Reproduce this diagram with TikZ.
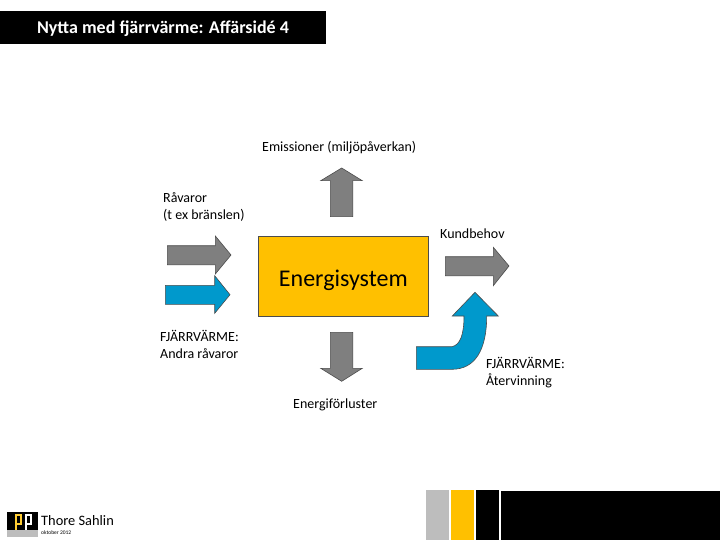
\documentclass[tikz,border=0pt]{standalone}
\usepackage{fontspec}
\usepackage{xcolor}
\usepackage{tikz}
\setmainfont{Carlito}
\definecolor{arrowgray}{HTML}{7F7F7F}
\definecolor{heatblue}{HTML}{0099CC}
\definecolor{boxyellow}{HTML}{FFC000}
\definecolor{bargray}{HTML}{BDBDBD}
\tikzset{
    grayarrow/.style={fill=arrowgray, draw=black!70, line width=0.6pt},
    bluearrow/.style={fill=heatblue, draw=black!70, line width=0.6pt},
    label/.style={anchor=west, align=left, font=\fontsize{14}{17}\selectfont, inner sep=0pt},
}

\begin{document}
\begin{tikzpicture}[x=1pt, y=-1pt]
    \useasboundingbox (0, 0) rectangle (720, 540);
    \fill[white] (0, 0) rectangle (720, 540);

    % Title
    \fill[black] (0, 11) rectangle (326, 44);
    \node[font=\fontsize{18}{20}\selectfont\bfseries, text=white, inner sep=0pt] (title) at (163, 29) {Nytta med fjärrvärme: Affärsidé 4};

    % Energisystem
    \node[draw=black!70, fill=boxyellow, line width=0.6pt, minimum width=170pt, minimum height=79.3pt, inner sep=0pt, text height=20pt, text depth=0pt, font=\fontsize{24}{28}\selectfont] (energy) at (343.3, 276.3) {Energisystem};

    % Up and down
    \draw[grayarrow] (330.3, 216.7) -- (330.3, 180.7) -- (320.7, 180.7) -- (341.7, 168) -- (362.3, 180.7) -- (352.7, 180.7) -- (352.7, 216.7) -- cycle;
    \draw[grayarrow] (330.3, 332.3) -- (330.3, 368.3) -- (320.7, 368.3) -- (341.7, 381.3) -- (362.3, 368.3) -- (352.7, 368.3) -- (352.7, 332.3) -- cycle;

    % Inputs
    \draw[grayarrow] (167.3, 245.7) -- (215.3, 245.7) -- (215.3, 236) -- (231, 255) -- (215.3, 274) -- (215.3, 264.7) -- (167.3, 264.7) -- cycle;
    \draw[bluearrow] (165.3, 285.3) -- (214.7, 285.3) -- (214.7, 275.7) -- (230, 294.7) -- (214.7, 313.3) -- (214.7, 304.3) -- (165.3, 304.3) -- cycle;

    % Output
    \draw[grayarrow] (445.3, 256.7) -- (493.3, 256.7) -- (493.3, 247.3) -- (509, 266) -- (493.3, 285.7) -- (493.3, 275.7) -- (445.3, 275.7) -- cycle;

    % Recovery
    \draw[bluearrow] (416.3, 346.7) -- (452, 346.7) .. controls (460, 345) and (464, 335) .. (464, 316) -- (452.3, 316) -- (475, 292.3) -- (498.3, 316) -- (486.7, 316) .. controls (486.7, 350) and (475, 369.3) .. (452, 369.3) -- (416.3, 369.3) -- cycle;

    % Labels
    \node[label] (emission) at (262, 147.5) {Emissioner (miljöpåverkan)};
    \node[label] (raw) at (163, 207) {Råvaror\\(t ex bränslen)};
    \node[label] (demand) at (440, 234) {Kundbehov};
    \node[label] (other) at (160, 344) {FJÄRRVÄRME:\\Andra råvaror};
    \node[label] (recovery) at (486, 372.5) {FJÄRRVÄRME:\\Återvinning};
    \node[label] (losses) at (293, 404.5) {Energiförluster};

    % Logo
    \fill[black] (7.3, 512) rectangle (38, 530);
    \fill[bargray] (7.3, 530) rectangle (38, 536.7);
    \draw[boxyellow!80!white, line width=1.4pt] (16, 530) -- (16, 515) -- (21, 515) -- (21, 524) -- (16, 524);
    \draw[white, line width=1.4pt] (26, 530) -- (26, 515) -- (31, 515) -- (31, 524) -- (26, 524);
    \node[label, font=\fontsize{14.4}{16}\selectfont] (name) at (41, 521) {Thore Sahlin};
    \node[label, font=\fontsize{5.5}{6}\selectfont] (date) at (41, 533) {oktober 2012};

    % Bars
    \fill[bargray] (426, 490) rectangle (449, 540);
    \fill[boxyellow] (451.3, 490) rectangle (474, 540);
    \fill[black] (476, 490) rectangle (499, 540);
    \fill[black] (501, 491) rectangle (720, 540);
\end{tikzpicture}
\end{document}
